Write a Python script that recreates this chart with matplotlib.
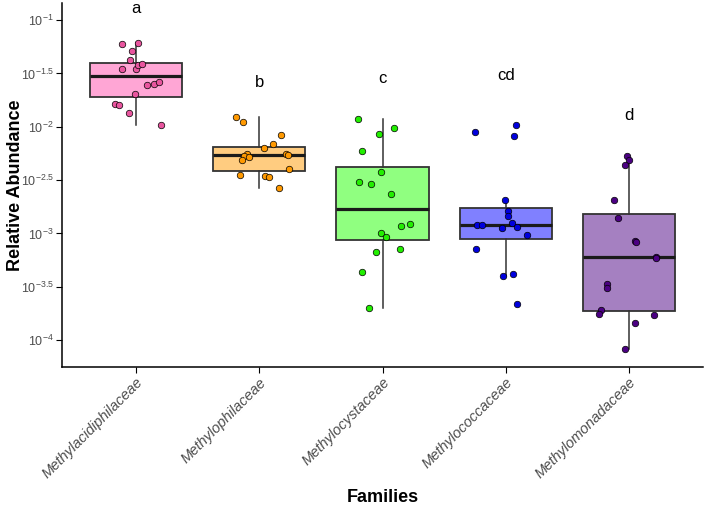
import numpy as np
import matplotlib.pyplot as plt

plt.rcParams['font.family'] = ['Liberation Sans', 'DejaVu Sans']
plt.rcParams['mathtext.default'] = 'regular'

# families (x axis)
families = ["Methylacidiphilaceae", "Methylophilaceae", "Methylocystaceae",
            "Methylococcaceae", "Methylomonadaceae"]

# log10 relative abundance
acidiphil = [-1.222, -1.213, -1.291, -1.375, -1.456, -1.462, -1.422, -1.415,
             -1.612, -1.597, -1.584, -1.694, -1.790, -1.797, -1.874, -1.981]
ophil = [-1.912, -1.956, -2.078, -2.165, -2.197, -2.253, -2.272, -2.284,
         -2.309, -2.259, -2.265, -2.399, -2.456, -2.462, -2.469, -2.577]
cystac = [-1.928, -2.015, -2.071, -2.231, -2.427, -2.521, -2.534, -2.628,
          -2.912, -2.928, -2.999, -3.037, -3.149, -3.174, -3.359, -3.699]
coccac = [-1.984, -2.050, -2.084, -2.690, -2.787, -2.837, -2.905, -2.921,
          -2.918, -2.949, -2.943, -3.018, -3.143, -3.378, -3.396, -3.664]
monad = [-2.272, -2.309, -2.362, -2.684, -2.856, -3.070, -3.078, -3.220,
         -3.228, -3.471, -3.512, -3.721, -3.753, -3.765, -3.840, -4.083]
log_abund = [acidiphil, ophil, cystac, coccac, monad]

# horizontal jitter of each point (as seen in the picture)
jit_acidiphil = [-0.11, 0.02, -0.03, -0.05, -0.11, 0.00, 0.02, 0.05,
                 0.09, 0.15, 0.19, -0.01, -0.17, -0.14, -0.06, 0.20]
jit_ophil = [-0.19, -0.13, 0.18, 0.11, 0.04, -0.10, -0.12, -0.08,
             -0.14, 0.22, 0.23, 0.24, -0.16, 0.05, 0.08, 0.16]
jit_cystac = [-0.20, 0.09, -0.03, -0.17, -0.01, -0.19, -0.09, 0.07,
              0.22, 0.15, -0.01, 0.03, 0.14, -0.05, -0.17, -0.11]
jit_coccac = [0.08, -0.25, 0.07, -0.01, 0.02, 0.02, 0.05, -0.23,
              -0.19, -0.03, 0.09, 0.17, -0.24, 0.06, -0.02, 0.09]
jit_monad = [-0.02, 0.00, -0.03, -0.12, -0.09, 0.05, 0.055, 0.22,
             0.215, -0.18, -0.18, -0.23, -0.24, 0.20, 0.05, -0.03]
jitter = [jit_acidiphil, jit_ophil, jit_cystac, jit_coccac, jit_monad]

point_colors = ["#E8559E", "#FF9900", "#22EE00", "#0000DD", "#4B0082"]
box_colors = ["#FFA6D5", "#FFCC80", "#90FF80", "#8080FF", "#A580C1"]

letters = ["a", "b", "c", "cd", "d"]
letter_y = [-0.934, -1.628, -1.590, -1.562, -1.937]

fig = plt.figure(figsize=(7.08, 5.11), dpi=100)
ax = fig.add_axes([0.0876, 0.2818, 0.9054, 0.712])

pos = np.arange(1, len(families) + 1)
bp = ax.boxplot(log_abund, positions=pos, widths=0.75, patch_artist=True,
                showfliers=False, showcaps=False, whis=1.5,
                medianprops=dict(color="#1a1a1a", linewidth=2.3),
                boxprops=dict(edgecolor="#333333", linewidth=1.3),
                whiskerprops=dict(color="#333333", linewidth=1.1))
for patch, c in zip(bp["boxes"], box_colors):
    patch.set_facecolor(c)

for i in range(len(families)):
    ax.scatter(pos[i] + np.array(jitter[i]), log_abund[i], s=22,
               c=point_colors[i], edgecolors="black", linewidths=0.5, zorder=3)
    ax.text(pos[i], letter_y[i], letters[i], ha="center", va="baseline",
            fontsize=12, color="black")

ax.set_xlim(0.4, 5.6)
ax.set_ylim(-4.252, -0.841)

yt = np.arange(-4, -0.9, 0.5)
ax.set_yticks(yt)
ax.set_yticklabels([f"$10^{{{t:g}}}$" for t in yt], fontsize=9)
ax.set_xticks(pos)
ax.set_xticklabels(families, rotation=45, ha="right", va="top",
                   rotation_mode="anchor", style="italic", fontsize=10.5)

ax.spines[["top", "right"]].set_visible(False)
for s in ["left", "bottom"]:
    ax.spines[s].set_linewidth(1.1)
ax.tick_params(length=4, width=0.8, colors="black", labelcolor="#4d4d4d",
               pad=2)

ax.set_xlabel("Families", fontsize=13, fontweight="bold")
ax.set_ylabel("Relative Abundance", fontsize=13, fontweight="bold")
ax.xaxis.set_label_coords(0.5, -0.335)
ax.yaxis.set_label_coords(-0.06, 0.5)

fig.savefig("out.png", dpi=100)
